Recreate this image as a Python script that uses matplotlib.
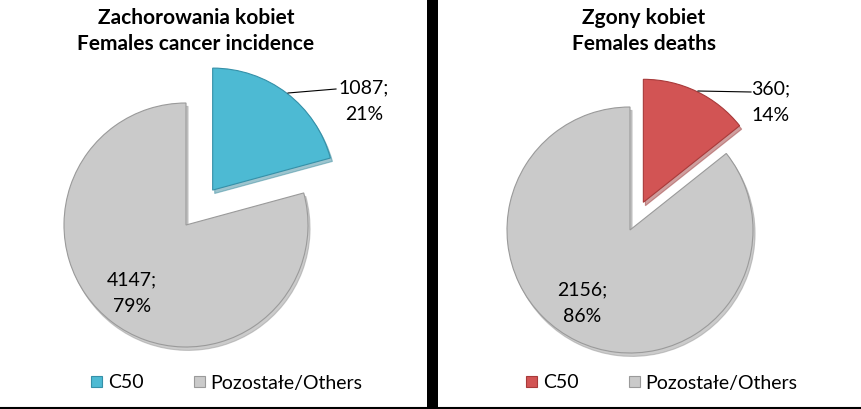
import matplotlib
matplotlib.use("Agg")
import matplotlib.pyplot as plt

plt.rcParams["font.family"] = ["Lato", "DejaVu Sans"]

# data
categories = ["C50", "Pozostałe/Others"]
incidence = [1087, 4147]
deaths = [360, 2156]
titles = ["Zachorowania kobiet\nFemales cancer incidence", "Zgony kobiet\nFemales deaths"]

W, H = 861, 409
fig = plt.figure(figsize=(W / 100, H / 100), dpi=100)


def add_pie(cx, cy, r, values, colors, explode):
    # axes in pixel units, radius 1 == r px
    half = 1.25 * r
    ax = fig.add_axes([(cx - half) / W, (H - cy - half) / H, 2 * half / W, 2 * half / H])
    wedges, _ = ax.pie(values, colors=colors, startangle=90, counterclock=False,
                       explode=[explode, 0],
                       wedgeprops=dict(edgecolor="#9a9a9a", linewidth=0.8),
                       shadow=dict(ox=0.012, oy=-0.02, shade=0.25))
    wedges[0].set_edgecolor(colors[2])
    ax.set_xlim(-1.25, 1.25)
    ax.set_ylim(-1.25, 1.25)
    return wedges


w_left = add_pie(186, 225, 122, incidence, ["#4DBAD3", "#CACACA", "#3590a8"], 0.36)
w_right = add_pie(630, 230, 123, deaths, ["#D25454", "#CACACA", "#a83a3a"], 0.25)

# overlay axes in pixel coordinates for text and lines
ov = fig.add_axes([0, 0, 1, 1], facecolor="none")
ov.set_xlim(0, W)
ov.set_ylim(H, 0)
ov.axis("off")

# separator bar and bottom line
ov.fill_between([427, 438], 0, H, color="black", lw=0)
ov.plot([0, W], [407.5, 407.5], color="black", lw=1.5)

# titles
ov.text(196, 31, titles[0], ha="center", va="center", fontsize=15,
        fontweight="bold", linespacing=1.38)
ov.text(644, 31, titles[1], ha="center", va="center", fontsize=15,
        fontweight="bold", linespacing=1.38)


def label(vals, i):
    pct = round(100 * vals[i] / sum(vals))
    return f"{vals[i]};\n{pct}%"


lab_kw = dict(ha="center", va="center", fontsize=14, linespacing=1.65)
ov.text(364, 101, label(incidence, 0), **lab_kw)
ov.text(132, 293, label(incidence, 1), **lab_kw)
ov.text(771, 102, label(deaths, 0), **lab_kw)
ov.text(582, 303, label(deaths, 1), **lab_kw)

# leader lines
ov.plot([288, 336], [93, 89], color="black", lw=0.8)
ov.plot([698, 751], [91, 92], color="black", lw=0.8)

leg_kw = dict(ncol=2, frameon=False, fontsize=14, handlelength=0.55, handleheight=0.55,
              handletextpad=0.3, columnspacing=2.6, loc="center")
fig.legend(w_left, categories, bbox_to_anchor=(227 / W, 1 - 383 / H), **leg_kw)
fig.legend(w_right, categories, bbox_to_anchor=(662 / W, 1 - 383 / H), **leg_kw)

fig.savefig("out.png", dpi=100)
